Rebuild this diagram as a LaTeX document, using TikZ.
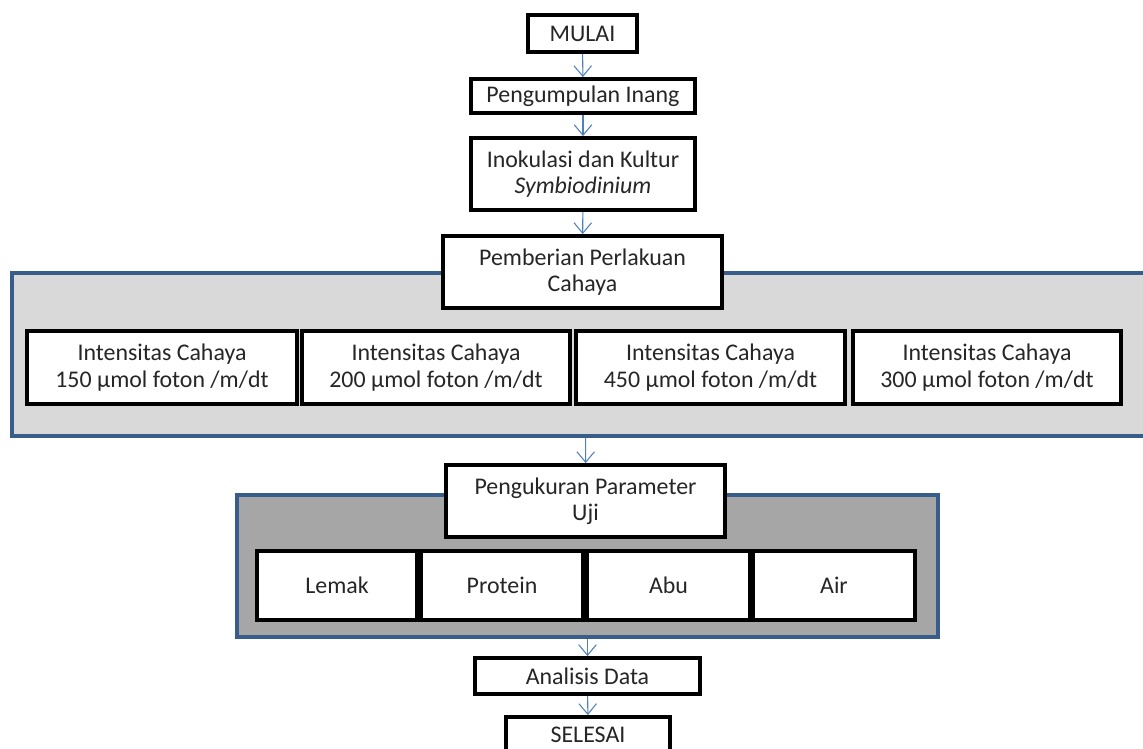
\documentclass[tikz,border=0pt]{standalone}
\usepackage{fontspec}
\setmainfont{Carlito}
\usetikzlibrary{arrows.meta}
\definecolor{flowblue}{RGB}{79,129,189}
\definecolor{panelblue}{RGB}{56,93,138}
\definecolor{lightpanel}{RGB}{217,217,217}
\definecolor{darkpanel}{RGB}{166,166,166}
\definecolor{textgray}{RGB}{38,38,38}
\tikzset{
  stepbox/.style={draw=black, line width=2.2pt, fill=white, align=center, text=textgray, inner sep=0pt},
  panelbox/.style={draw=panelblue, line width=2.2pt, inner sep=0pt},
  flow/.style={draw=flowblue, line width=0.6pt, -{Straight Barb[length=6pt,width=10pt]}},
}
\begin{document}
\begin{tikzpicture}[x=0.02cm, y=-0.02cm, font=\fontsize{13.6}{15}\selectfont]
  \clip (0,0) rectangle (1143,749);
  \fill[white] (0,0) rectangle (1143,749);
  %panels
  \node[panelbox, fill=lightpanel, minimum width=22.96cm, minimum height=3.26cm] at (586,354.5) (cahayapanel) {};
  \node[panelbox, fill=darkpanel, minimum width=14.02cm, minimum height=2.84cm] at (587.5,566) (ujipanel) {};
  %steps
  \node[stepbox, minimum width=2.18cm, minimum height=0.74cm] at (582.5,33.5) (mulai) {MULAI};
  \node[stepbox, minimum width=4.48cm, minimum height=0.68cm] at (583,96) (inang) {Pengumpulan Inang};
  \node[stepbox, minimum width=4.48cm, minimum height=1.44cm] at (583,174) (kultur) {Inokulasi dan Kultur\\\textit{Symbiodinium}};
  \node[stepbox, minimum width=5.58cm, minimum height=1.44cm] at (582.5,272) (perlakuan) {Pemberian Perlakuan\\Cahaya};
  \node[stepbox, minimum width=5.40cm, minimum height=1.46cm] at (162,367.5) (int150) {Intensitas Cahaya\\150 µmol foton /m/dt};
  \node[stepbox, minimum width=5.36cm, minimum height=1.46cm] at (436,367.5) (int200) {Intensitas Cahaya\\200 µmol foton /m/dt};
  \node[stepbox, minimum width=5.38cm, minimum height=1.46cm] at (710.5,367.5) (int450) {Intensitas Cahaya\\450 µmol foton /m/dt};
  \node[stepbox, minimum width=5.36cm, minimum height=1.46cm] at (987,367.5) (int300) {Intensitas Cahaya\\300 µmol foton /m/dt};
  \node[stepbox, minimum width=5.58cm, minimum height=1.44cm] at (585.5,501) (parameter) {Pengukuran Parameter\\Uji};
  \node[stepbox, minimum width=3.20cm, minimum height=1.38cm] at (337,585.5) (lemak) {Lemak};
  \node[stepbox, minimum width=3.24cm, minimum height=1.38cm] at (502,585.5) (protein) {Protein};
  \node[stepbox, minimum width=3.26cm, minimum height=1.38cm] at (668.5,585.5) (abu) {Abu};
  \node[stepbox, minimum width=3.24cm, minimum height=1.38cm] at (834,585.5) (air) {Air};
  \node[stepbox, minimum width=4.50cm, minimum height=0.72cm] at (587.5,676) (analisis) {Analisis Data};
  \node[stepbox, minimum width=3.28cm, minimum height=0.72cm] at (588,735) (selesai) {SELESAI};
  %arrows
  \path[flow] (mulai) edge (inang)
              (inang) edge (kultur)
              (kultur) edge (perlakuan)
              (cahayapanel) edge (parameter)
              (ujipanel) edge (analisis)
              (analisis) edge (selesai);
\end{tikzpicture}
\end{document}
